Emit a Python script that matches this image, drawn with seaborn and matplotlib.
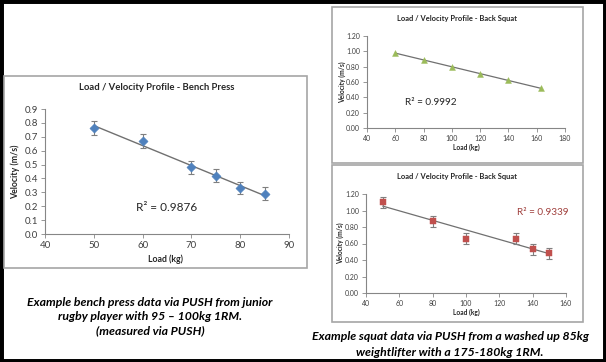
import numpy as np
import pandas as pd
import matplotlib.pyplot as plt
import matplotlib.patches as patches
from matplotlib.ticker import FormatStrFormatter
import seaborn as sns

# dados
bench_load = [50, 60, 70, 75, 80, 85]
bench_vel = [0.765, 0.67, 0.48, 0.42, 0.33, 0.29]
bench_err = [0.05, 0.05, 0.045, 0.045, 0.045, 0.045]

squat1_load = [60, 80, 100, 120, 140, 163]
squat1_vel = [0.98, 0.89, 0.79, 0.71, 0.62, 0.52]

squat2_load = [50, 80, 100, 130, 140, 150]
squat2_vel = [1.10, 0.87, 0.66, 0.66, 0.53, 0.48]
squat2_err = [0.065, 0.065, 0.065, 0.065, 0.065, 0.065]

sns.set_style("white")
plt.rcParams['font.family'] = ['Lato', 'DejaVu Sans']

W, H = 606, 362
fig = plt.figure(figsize=(W / 100, H / 100), dpi=100)


def px_axes(x0, y0, x1, y1):
    return fig.add_axes([x0 / W, 1 - y1 / H, (x1 - x0) / W, (y1 - y0) / H])


def box(x0, y0, x1, y1):
    fig.patches.append(patches.Rectangle((x0 / W, 1 - y1 / H), (x1 - x0) / W, (y1 - y0) / H,
                                         transform=fig.transFigure, fill=False,
                                         edgecolor="#a6a6a6", lw=1.2))


def ftext(x, y, s, **kw):
    fig.text(x / W, 1 - y / H, s, ha="center", va="center", **kw)


def style_ax(ax, fs):
    for s in ["top", "right"]:
        ax.spines[s].set_visible(False)
    for s in ["left", "bottom"]:
        ax.spines[s].set_color("#868686")
        ax.spines[s].set_linewidth(0.8)
    ax.tick_params(axis="both", direction="out", length=3, width=0.6, color="#868686",
                   labelsize=fs, labelcolor="#404040", pad=2)
    ax.tick_params(axis="both", which="both", bottom=True, left=True)
    ax.set_xlabel("")
    ax.set_ylabel("")


# moldura preta
fig.patches.append(patches.Rectangle((0, 0), 1, 1, transform=fig.transFigure,
                                     fill=False, edgecolor="black", lw=5))

box(4, 76, 307, 268)
box(332, 7, 583, 163)
box(332, 165, 583, 322)

# --- supino ---
df_b = pd.DataFrame({"load": bench_load, "vel": bench_vel})
ax = px_axes(45, 109, 289, 234)
sns.regplot(data=df_b, x="load", y="vel", scatter=False, ci=None, ax=ax,
            line_kws={"color": "#707070", "lw": 1})
ax.errorbar(bench_load, bench_vel, yerr=bench_err, fmt="none", ecolor="#7f7f7f",
            elinewidth=0.8, capsize=2, capthick=0.8)
sns.scatterplot(data=df_b, x="load", y="vel", marker="D", s=22, color="#4f81bd",
                edgecolor="#4f81bd", ax=ax, zorder=5)
ax.set_xlim(40, 90)
ax.set_ylim(0, 0.9)
ax.set_xticks(np.arange(40, 91, 10))
ax.set_yticks(np.arange(0, 0.91, 0.1))
ax.yaxis.set_major_formatter(FormatStrFormatter("%.1f"))
style_ax(ax, 7)
ax.text(65, 0.19, "R² = 0.9876", ha="center", va="center", fontsize=8.5, color="#262626")
ftext(157, 88, "Load / Velocity Profile - Bench Press", fontsize=6.8, fontweight="bold",
      color="#262626")
ftext(165, 259, "Load (kg)", fontsize=6.3, fontweight="bold", color="#262626")
ftext(15, 172, "Velocity (m/s)", fontsize=6.3, fontweight="bold", color="#262626",
      rotation=90)

# --- agachamento (cima) ---
df_s1 = pd.DataFrame({"load": squat1_load, "vel": squat1_vel})
ax = px_axes(367, 36, 565, 128)
sns.regplot(data=df_s1, x="load", y="vel", scatter=False, ci=None, ax=ax,
            line_kws={"color": "#707070", "lw": 0.9})
sns.scatterplot(data=df_s1, x="load", y="vel", marker="^", s=18, color="#9bbb59",
                edgecolor="#9bbb59", ax=ax, zorder=5)
ax.set_xlim(40, 180)
ax.set_ylim(0, 1.2)
ax.set_xticks(np.arange(40, 181, 20))
ax.set_yticks(np.arange(0, 1.21, 0.2))
ax.yaxis.set_major_formatter(FormatStrFormatter("%.2f"))
style_ax(ax, 5)
ax.text(85, 0.33, "R² = 0.9992", ha="center", va="center", fontsize=7.2, color="#262626")
ftext(457, 18, "Load / Velocity Profile - Back Squat", fontsize=5.4, fontweight="bold",
      color="#262626")
ftext(466, 147, "Load (kg)", fontsize=4.8, fontweight="bold", color="#262626")
ftext(342, 82, "Velocity (m/s)", fontsize=4.8, fontweight="bold", color="#262626",
      rotation=90)

# --- agachamento (baixo) ---
df_s2 = pd.DataFrame({"load": squat2_load, "vel": squat2_vel})
ax = px_axes(366, 194, 566, 293)
sns.regplot(data=df_s2, x="load", y="vel", scatter=False, ci=None, ax=ax,
            line_kws={"color": "#707070", "lw": 0.9})
ax.errorbar(squat2_load, squat2_vel, yerr=squat2_err, fmt="none", ecolor="#7f7f7f",
            elinewidth=0.8, capsize=2, capthick=0.8)
sns.scatterplot(data=df_s2, x="load", y="vel", marker="s", s=16, color="#c0504d",
                edgecolor="#c0504d", ax=ax, zorder=5)
ax.set_xlim(40, 160)
ax.set_ylim(0, 1.2)
ax.set_xticks(np.arange(40, 161, 20))
ax.set_yticks(np.arange(0, 1.21, 0.2))
ax.yaxis.set_major_formatter(FormatStrFormatter("%.2f"))
style_ax(ax, 5)
ax.text(146, 0.98, "R² = 0.9339", ha="center", va="center", fontsize=7.2, color="#a0403d")
ftext(457, 176, "Load / Velocity Profile - Back Squat", fontsize=5.4, fontweight="bold",
      color="#262626")
ftext(466, 312, "Load (kg)", fontsize=4.8, fontweight="bold", color="#262626")
ftext(340, 243, "Velocity (m/s)", fontsize=4.8, fontweight="bold", color="#262626",
      rotation=90)

# legendas
cap = dict(fontsize=8.8, fontweight="bold", style="italic", color="black")
ftext(150, 302, "Example bench press data via PUSH from junior", **cap)
ftext(150, 317, "rugby player with 95 – 100kg 1RM.", **cap)
ftext(150, 331, "(measured via PUSH)", **cap)
ftext(450, 337, "Example squat data via PUSH from a washed up 85kg", **cap)
ftext(450, 352, "weightlifter with a 175-180kg 1RM.", **cap)

fig.savefig("out.png", dpi=100)
